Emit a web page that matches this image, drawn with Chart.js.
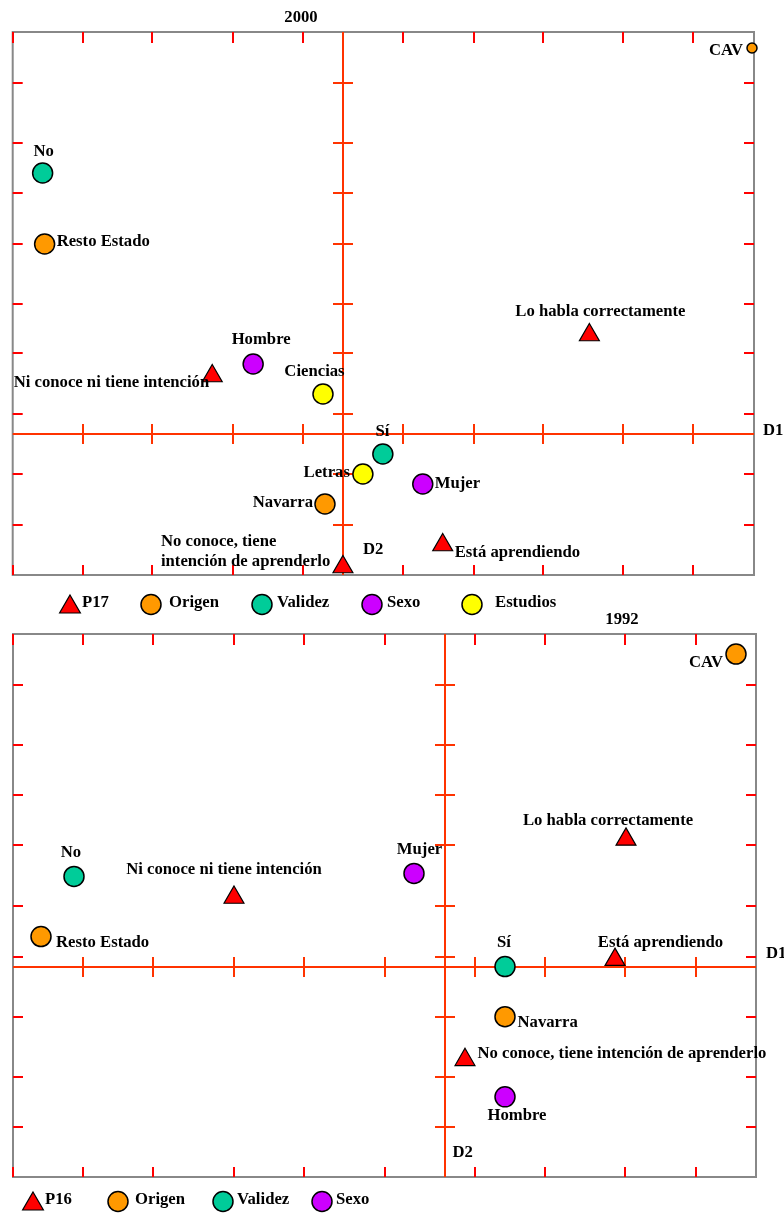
<!DOCTYPE html>
<html lang="es">
<head>
<meta charset="UTF-8">
<title>Análisis de correspondencias 2000 / 1992</title>
<script src="https://cdn.jsdelivr.net/npm/chart.js@4.4.0/dist/chart.umd.min.js"></script>
<style>
  html, body { margin: 0; padding: 0; background: #fff; }
  #wrap { position: relative; width: 784px; height: 1215px; overflow: hidden; }
  canvas { position: absolute; left: 0; }
  #c2000 { top: 0; }
  #c1992 { top: 608px; }
</style>
</head>
<body>
<div id="wrap">
  <canvas id="c2000" width="784" height="620"></canvas>
  <canvas id="c1992" width="784" height="607"></canvas>
</div>
<script>
// ---------- 2000 ----------
var p17Labels = ['Ni conoce ni tiene intención', 'Lo habla correctamente', 'Está aprendiendo', 'No conoce, tiene\nintención de aprenderlo'];
var p17X = [-1.31, 2.47, 1.00, 0.00];
var p17Y = [0.58, 0.99, -1.11, -1.33];

var origen2000Labels = ['CAV', 'Resto Estado', 'Navarra'];
var origen2000X = [4.10, -2.99, -0.18];
var origen2000Y = [3.86, 1.90, -0.70];

var validez2000Labels = ['No', 'Sí'];
var validez2000X = [-3.01, 0.40];
var validez2000Y = [2.61, -0.20];

var sexo2000Labels = ['Hombre', 'Mujer'];
var sexo2000X = [-0.90, 0.80];
var sexo2000Y = [0.70, -0.50];

var estudiosLabels = ['Ciencias', 'Letras'];
var estudiosX = [-0.20, 0.20];
var estudiosY = [0.40, -0.40];

var xRange2000 = [-3.31, 4.12];
var yRange2000 = [-1.41, 4.02];
var xTicks2000 = [-3.31, -2.61, -1.91, -1.10, -0.40, 0.60, 1.31, 2.01, 2.81, 3.51];
var yTicks2000 = [3.51, 2.91, 2.41, 1.90, 1.30, 0.81, 0.20, -0.40, -0.91];

// ---------- 1992 ----------
var p16Labels = ['Lo habla correctamente', 'Ni conoce ni tiene intención', 'Está aprendiendo', 'No conoce, tiene intención de aprenderlo'];
var p16X = [1.81, -2.11, 1.70, 0.20];
var p16Y = [1.27, 0.69, 0.07, -0.93];

var origen1992Labels = ['CAV', 'Resto Estado', 'Navarra'];
var origen1992X = [2.91, -4.04, 0.60];
var origen1992Y = [3.12, 0.30, -0.50];

var validez1992Labels = ['No', 'Sí'];
var validez1992X = [-3.71, 0.60];
var validez1992Y = [0.90, 0.00];

var sexo1992Labels = ['Mujer', 'Hombre'];
var sexo1992X = [-0.31, 0.60];
var sexo1992Y = [0.93, -1.30];

var xRange1992 = [-4.32, 3.11];
var yRange1992 = [-2.10, 3.32];
var xTicks1992 = [-4.32, -3.62, -2.92, -2.11, -1.41, -0.60, 0.30, 1.00, 1.80, 2.51];
var yTicks1992 = [2.81, 2.21, 1.71, 1.21, 0.61, 0.10, -0.50, -1.10, -1.60];

// label placement: [align, dx, dy]
var place2000 = {
  'No': ['center', 1, -17],
  'CAV': ['right', -9, 7],
  'Resto Estado': ['left', 12, 2],
  'Lo habla correctamente': ['center', 11, -19],
  'Hombre': ['center', 8, -20],
  'Ni conoce ni tiene intención': ['right', -3, 11],
  'Ciencias': ['center', -8.5, -18],
  'Sí': ['center', -0.5, -18],
  'Letras': ['right', -13, 3],
  'Mujer': ['left', 12, 4],
  'Navarra': ['right', -12, 3],
  'Está aprendiendo': ['left', 12, 12],
  'No conoce, tiene\nintención de aprenderlo': ['left', -182, -21]
};
var place1992 = {
  'CAV': ['right', -13, 13],
  'Lo habla correctamente': ['center', -18, -14],
  'Mujer': ['center', 5.5, -19],
  'No': ['center', -3, -19],
  'Ni conoce ni tiene intención': ['center', -10, -23],
  'Resto Estado': ['left', 15, 10],
  'Sí': ['center', -1, -20],
  'Está aprendiendo': ['center', 45.5, -13],
  'Navarra': ['left', 12.5, 10],
  'No conoce, tiene intención de aprenderlo': ['left', 12.5, -2],
  'Hombre': ['center', 12, 23]
};

var RED = '#ff0000';
var ORANGE = '#ff9900';
var TEAL = '#00cc99';
var PURPLE = '#cc00ff';
var YELLOW = '#ffff00';
var AXIS = '#ff3300';
var FONT = 'bold 16.7px "Liberation Serif", "Times New Roman", serif';

function pts(xs, ys, labels) {
    return xs.map(function (x, i) {
        return { x: x, y: ys[i], label: labels[i] };
    });
}

function ds(label, data, color, style, radius) {
    return {
        label: label,
        data: data,
        backgroundColor: color,
        borderColor: '#000',
        borderWidth: style === 'triangle' ? 1.2 : 1.5,
        pointStyle: style,
        pointRadius: radius,
        pointHoverRadius: radius,
        showLine: false,
        clip: false
    };
}

function marker(ctx, style, color, x, y, r) {
    ctx.save();
    ctx.beginPath();
    if (style === 'triangle') {
        var a = 0;
        ctx.moveTo(x + Math.sin(a) * r, y - Math.cos(a) * r);
        a += Math.PI * 2 / 3;
        ctx.lineTo(x + Math.sin(a) * r, y - Math.cos(a) * r);
        a += Math.PI * 2 / 3;
        ctx.lineTo(x + Math.sin(a) * r, y - Math.cos(a) * r);
        ctx.closePath();
    } else {
        ctx.arc(x, y, r, 0, Math.PI * 2);
    }
    ctx.fillStyle = color;
    ctx.fill();
    ctx.lineWidth = style === 'triangle' ? 1.2 : 1.5;
    ctx.strokeStyle = '#000';
    ctx.stroke();
    ctx.restore();
}

function line(ctx, x1, y1, x2, y2) {
    ctx.beginPath();
    ctx.moveTo(x1, y1);
    ctx.lineTo(x2, y2);
    ctx.stroke();
}

var mapa = {
    id: 'mapa',
    beforeDatasetsDraw: function (chart, args, o) {
        var ctx = chart.ctx, a = chart.chartArea;
        var sx = chart.scales.x, sy = chart.scales.y;
        var x0 = Math.round(sx.getPixelForValue(0)), y0 = Math.round(sy.getPixelForValue(0));
        ctx.save();
        // frame
        ctx.strokeStyle = '#888';
        ctx.lineWidth = 2;
        ctx.strokeRect(a.left, a.top, a.right - a.left, a.bottom - a.top);
        // axes
        ctx.strokeStyle = AXIS;
        line(ctx, x0, a.top, x0, a.bottom);
        line(ctx, a.left, y0, a.right, y0);
        // ticks on axes
        o.xTicks.forEach(function (v, i) {
            var px = Math.round(sx.getPixelForValue(v));
            if (i > 0) line(ctx, px, y0 - 10, px, y0 + 10);
        });
        o.yTicks.forEach(function (v) {
            var py = Math.round(sy.getPixelForValue(v));
            line(ctx, x0 - 10, py, x0 + 10, py);
        });
        // ticks on frame
        ctx.strokeStyle = RED;
        o.xTicks.forEach(function (v) {
            var px = Math.round(sx.getPixelForValue(v));
            line(ctx, px, a.top, px, a.top + 11);
            line(ctx, px, a.bottom, px, a.bottom - 10);
        });
        o.yTicks.forEach(function (v) {
            var py = Math.round(sy.getPixelForValue(v));
            line(ctx, a.left, py, a.left + 10, py);
            line(ctx, a.right, py, a.right - 10, py);
        });
        ctx.restore();
    },
    afterDatasetsDraw: function (chart, args, o) {
        var ctx = chart.ctx;
        ctx.save();
        ctx.font = FONT;
        ctx.fillStyle = '#000';
        ctx.textBaseline = 'alphabetic';
        chart.data.datasets.forEach(function (d, di) {
            var meta = chart.getDatasetMeta(di);
            d.data.forEach(function (p, i) {
                var el = meta.data[i];
                var pl = o.place[p.label] || ['center', 0, -18];
                ctx.textAlign = pl[0];
                p.label.split('\n').forEach(function (t, k) {
                    ctx.fillText(t, el.x + pl[1], el.y + pl[2] + k * 20);
                });
            });
        });
        ctx.restore();
    },
    afterDraw: function (chart, args, o) {
        var ctx = chart.ctx, a = chart.chartArea;
        var x0 = chart.scales.x.getPixelForValue(0), y0 = chart.scales.y.getPixelForValue(0);
        ctx.save();
        ctx.font = FONT;
        ctx.fillStyle = '#000';
        ctx.textBaseline = 'alphabetic';
        ctx.textAlign = 'center';
        ctx.fillText(o.title, o.titleX, a.top - 10);
        ctx.textAlign = 'left';
        ctx.fillText('D1', a.right + o.d1[0], y0 + o.d1[1]);
        ctx.fillText('D2', x0 + o.d2[0], a.bottom + o.d2[1]);
        // legend
        var ly = a.bottom + o.legendY;
        o.legend.forEach(function (it, i) {
            var d = chart.data.datasets[i];
            if (d.pointStyle === 'triangle') marker(ctx, 'triangle', d.backgroundColor, it[0], ly, 12);
            else marker(ctx, 'circle', d.backgroundColor, it[0], ly - 2.5, 10);
            ctx.fillStyle = '#000';
            ctx.fillText(d.label, it[1], ly);
        });
        ctx.restore();
    }
};

function makeChart(id, datasets, xr, yr, pad, opts) {
    return new Chart(document.getElementById(id), {
        type: 'scatter',
        data: { datasets: datasets },
        options: {
            responsive: false,
            animation: false,
            events: [],
            layout: { padding: pad },
            scales: {
                x: { type: 'linear', min: xr[0], max: xr[1], display: false },
                y: { type: 'linear', min: yr[0], max: yr[1], display: false }
            },
            plugins: {
                legend: { display: false },
                tooltip: { enabled: false },
                mapa: opts
            }
        },
        plugins: [mapa]
    });
}

makeChart('c2000', [
    ds('P17', pts(p17X, p17Y, p17Labels), RED, 'triangle', 11.5),
    ds('Origen', pts(origen2000X, origen2000Y, origen2000Labels), ORANGE, 'circle', [5, 10, 10]),
    ds('Validez', pts(validez2000X, validez2000Y, validez2000Labels), TEAL, 'circle', 10),
    ds('Sexo', pts(sexo2000X, sexo2000Y, sexo2000Labels), PURPLE, 'circle', 10),
    ds('Estudios', pts(estudiosX, estudiosY, estudiosLabels), YELLOW, 'circle', 10)
], xRange2000, yRange2000, { left: 11, top: 32, right: 30, bottom: 45 }, {
    xTicks: xTicks2000, yTicks: yTicks2000, place: place2000,
    title: '2000', titleX: 301, d1: [9, 1], d2: [20, -21],
    legendY: 32,
    legend: [[70, 82], [151, 169], [262, 277], [372, 387], [472, 495]]
});

makeChart('c1992', [
    ds('P16', pts(p16X, p16Y, p16Labels), RED, 'triangle', 11.5),
    ds('Origen', pts(origen1992X, origen1992Y, origen1992Labels), ORANGE, 'circle', 10),
    ds('Validez', pts(validez1992X, validez1992Y, validez1992Labels), TEAL, 'circle', 10),
    ds('Sexo', pts(sexo1992X, sexo1992Y, sexo1992Labels), PURPLE, 'circle', 10)
], xRange1992, yRange1992, { left: 13, top: 26, right: 28, bottom: 38 }, {
    xTicks: xTicks1992, yTicks: yTicks1992, place: place1992,
    title: '1992', titleX: 622, d1: [10, -9], d2: [7.5, -20],
    legendY: 27,
    legend: [[33, 45], [118, 135], [223, 237], [322, 336]]
});
</script>
</body>
</html>
